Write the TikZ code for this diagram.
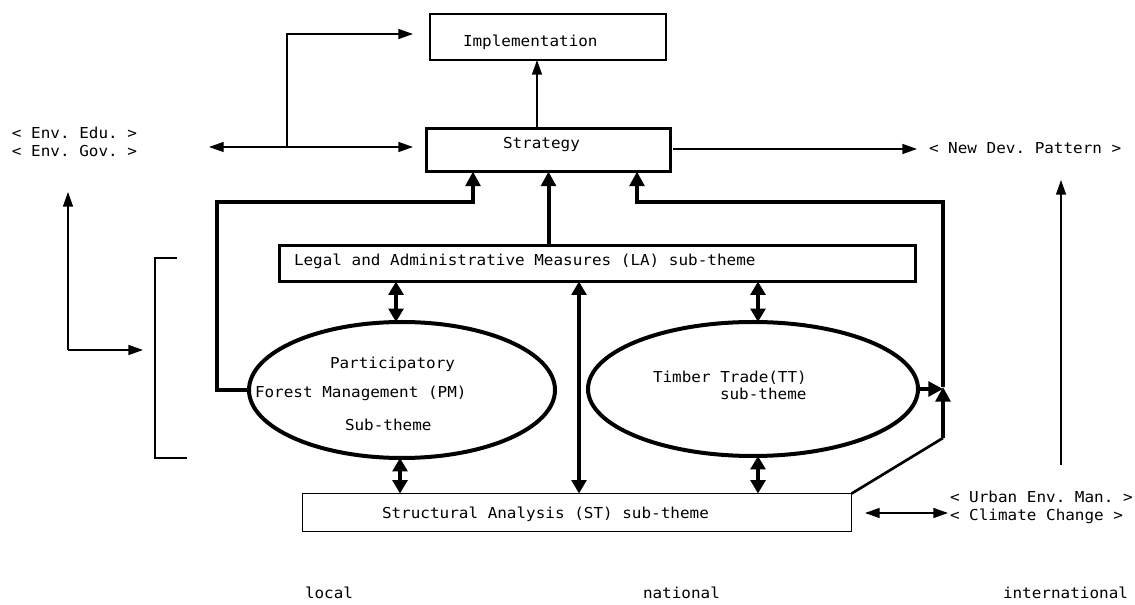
\documentclass[tikz,border=0pt]{standalone}
\usepackage{fontspec}
\setmonofont[FakeStretch=1.06]{DejaVu Sans Mono}
\usetikzlibrary{arrows.meta,shapes.geometric}
\newcommand\lblfont{\ttfamily\fontsize{11.3}{13.6}\selectfont\frenchspacing}
\begin{document}
\begin{tikzpicture}[x=0.75pt,y=-0.75pt,
  every node/.style={inner sep=0pt, outer sep=0pt},
  lbl/.style={anchor=base west, font=\lblfont},
  box/.style={draw, rectangle, line width=1pt},
  tbox/.style={draw, rectangle, line width=2.2pt},
  oval/.style={draw, ellipse, line width=3pt},
  thinln/.style={line width=1pt},
  thkln/.style={line width=3pt},
  arr/.style={thinln, -{Triangle[length=11pt,width=7.5pt]}},
  darr/.style={thinln, {Triangle[length=11pt,width=7.5pt]}-{Triangle[length=11pt,width=7.5pt]}},
  tarr/.style={thkln, -{Triangle[length=11pt,width=11pt]}},
  tdarr/.style={thkln, {Triangle[length=10pt,width=11pt]}-{Triangle[length=10pt,width=11pt]}},
]
\useasboundingbox (0,0) rectangle (1135,605);

% boxes and ovals
\node[box, minimum width=177pt, minimum height=34.5pt] (I) at (548,37) {};
\node[tbox, minimum width=183pt, minimum height=32.25pt] (S) at (548.5,150) {};
\node[tbox, minimum width=477pt, minimum height=27pt] (LA) at (597.5,263.5) {};
\node[box, minimum width=412pt, minimum height=28.5pt] (ST) at (577,512.5) {};
\node[oval, minimum width=229.5pt, minimum height=102pt] (PM) at (402,390) {};
\node[oval, minimum width=247.5pt, minimum height=100.5pt] (TT) at (753,389) {};

% texts
\node[lbl] (tI) at (463,46.5) {Implementation};
\node[lbl] (tS) at (503,149) {Strategy};
\node[lbl] (edu) at (12,139) {< Env. Edu. >};
\node[lbl] (gov) at (12,157) {< Env. Gov. >};
\node[lbl] (ndp) at (929,154) {< New Dev. Pattern >};
\node[lbl] (tLA) at (294,266) {Legal and Administrative Measures (LA) sub-theme};
\node[lbl] (pm1) at (330,369) {Participatory};
\node[lbl] (pm2) at (255,398) {Forest Management (PM)};
\node[lbl] (pm3) at (345,431) {Sub-theme};
\node[lbl] (tt1) at (653,383) {Timber Trade(TT)};
\node[lbl] (tt2) at (720,400) {sub-theme};
\node[lbl] (tST) at (382,518) {Structural Analysis (ST) sub-theme};
\node[lbl] (urb) at (950,502.5) {< Urban Env. Man. >};
\node[lbl] (cli) at (950,521) {< Climate Change >};
\node[lbl] (loc) at (305,598) {local};
\node[lbl] (nat) at (643,598) {national};
\node[lbl] (int) at (1003,598) {international};

% thin connectors
\coordinate (xa) at (537,0);
\draw[arr] (xa |- S.north) -- (xa |- I.south);
\coordinate (jn) at (287,147);
\coordinate (iL) at (413,34);
\draw[arr] (jn) |- (iL);
\coordinate (eL) at (209,147);
\coordinate (eR) at (413,147);
\draw[darr] (eL) -- (eR);
\coordinate (nd) at (917,149);
\draw[arr, shorten <=2pt] (S.east |- nd) -- (nd);
\coordinate (ndB) at (1061,465);
\coordinate (ndT) at (1061,180);
\draw[arr] (ndB) -- (ndT);
\coordinate (lc) at (68,350);
\coordinate (lt) at (68,192);
\coordinate (lr) at (143,350);
\draw[arr] (lc) -- (lt);
\draw[arr] (lc) -- (lr);
\draw[thinln] (177,258) -- (155,258) -- (155,458) -- (187,458);
\coordinate (u1) at (865,513);
\coordinate (u2) at (948,513);
\draw[darr] (u1) -- (u2);

% thick connectors to Strategy
\coordinate (k1) at (217,202);
\coordinate (k2) at (473,202);
\draw[tarr] (PM.west) -| (k1) -- (k2) -- (k2 |- S.south);
\draw[tarr] (S.south |- LA.north) -- (S.south);
\coordinate (r0) at (943,438);
\coordinate (r1) at (943,387);
\coordinate (r2) at (943,202);
\coordinate (r3) at (637,202);
\draw[tarr] (r1) -- (r2) -- (r3) -- (r3 |- S.south);
\draw[line width=2pt] (ST.north east) -- (r0);
\draw[tarr] (r0) -- (r1);
\draw[tarr] (TT.east) -- (TT.east -| r1);

% double arrows between sub-themes
\coordinate (d1) at (396,0);
\coordinate (d2) at (758,0);
\coordinate (d3) at (400,0);
\coordinate (d4) at (579,0);
\draw[tdarr] (d1 |- LA.south) -- (d1 |- PM.north);
\draw[tdarr] (d2 |- LA.south) -- (d2 |- TT.north);
\draw[tdarr] (d3 |- PM.south) -- (d3 |- ST.north);
\draw[tdarr] (d2 |- TT.south) -- (d2 |- ST.north);
\draw[tdarr, line width=2.3pt] (d4 |- LA.south) -- (d4 |- ST.north);
\end{tikzpicture}
\end{document}
